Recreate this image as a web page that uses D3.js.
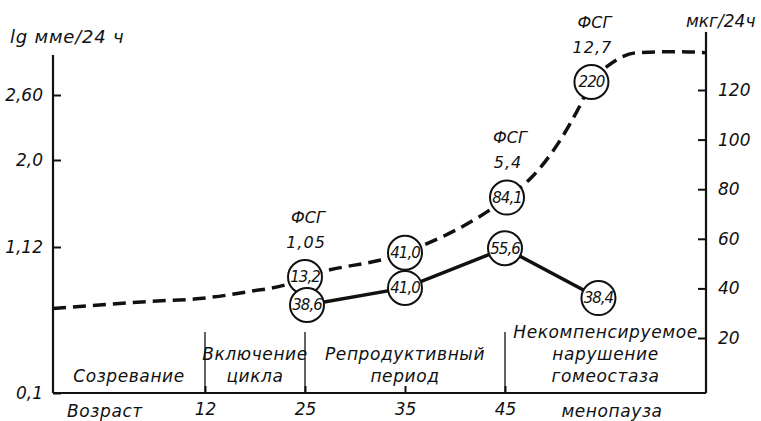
<!DOCTYPE html>
<html>
<head>
<meta charset="utf-8">
<script src="https://cdn.jsdelivr.net/npm/d3@7"></script>
<style>
    body { margin: 0; background: #fff; }
    svg text { font-family: "DejaVu Sans", sans-serif; font-style: italic; fill: #111; }
    .axis path { display: none; }
    .axis line { stroke: #111; stroke-width: 2; }
    .axis text { font-size: 17px; }
</style>
</head>
<body>
<div id="chart"></div>
<script>
// axis ticks
const leftTicks = [0.1, 1.12, 2.0, 2.6];
const leftTickLabels = ["0,1", "1,12", "2,0", "2,60"];
const rightTicks = [20, 40, 60, 80, 100, 120];
const ageTicks = [12, 25, 35, 45];

// dashed curve (lg мме/24 ч)
const fshCurveAges = [0, 7.7, 11.6, 17.9, 22.7, 25, 35, 45.2, 47.7, 52.5, 53.6, 55.4, 58.1, 62.4, 65];
const fshCurveLg = [0.69, 0.74, 0.76, 0.81, 0.86, 0.91, 1.08, 1.62, 1.83, 2.51, 2.72, 2.88, 2.99, 3.0, 2.99];

// circled points on the dashed curve
const fshPointAges = [25, 35, 45.2, 53.6];
const fshPointLg = [0.91, 1.08, 1.62, 2.72];
const fshPointLabels = ["13,2", "41,0", "84,1", "220"];

// ФСГ notes above some of the circles
const fsgNoteIndex = [0, 2, 3];
const fsgNoteValues = ["1,05", "5,4", "12,7"];

// solid line (мкг/24 ч)
const estrAges = [25.2, 35, 45, 54.3];
const estrValues = [33.3, 40.2, 56.2, 36.1];
const estrLabels = ["38,6", "41,0", "55,6", "38,4"];

// life stages along the bottom
const stageSpans = [[0, 12], [12, 25], [25, 45], [45, 65]];
const stageNames = [["Созревание"], ["Включение", "цикла"], ["Репродуктивный", "период"],
    ["Некомпенсируемое", "нарушение", "гомеостаза"]];
const stageDividers = [12, 25, 45];

const width = 761, height = 421;
const xLeft = 53, xRight = 706, yBottom = 393;

const svg = d3.select("#chart").append("svg")
    .attr("width", width)
    .attr("height", height);

// scales (the original axes are not evenly spaced)
let x = d3.scaleLinear().domain([0, 12, 25, 35, 45, 65]).range([xLeft, 205, 305, 405, 505, xRight]);
let yL = d3.scaleLinear().domain(leftTicks).range([yBottom, 247, 160, 95]);
let yR = d3.scaleLinear().domain([0, 120]).range([387.6, 90]);

// axis lines
svg.append("line").attr("x1", xLeft).attr("x2", xLeft).attr("y1", 55).attr("y2", yBottom)
    .style("stroke", "#111").style("stroke-width", 2.2);
svg.append("line").attr("x1", xRight).attr("x2", xRight).attr("y1", 32).attr("y2", yBottom)
    .style("stroke", "#111").style("stroke-width", 2.2);
svg.append("line").attr("x1", xLeft).attr("x2", xRight).attr("y1", yBottom).attr("y2", yBottom)
    .style("stroke", "#111").style("stroke-width", 2.2);

// left axis, ticks pointing inwards
svg.append("g")
    .attr("class", "axis")
    .attr("transform", "translate(" + xLeft + ",0)")
    .call(d3.axisLeft(yL).tickValues(leftTicks).tickSize(-8).tickPadding(10)
        .tickFormat((d, i) => leftTickLabels[i]));

// right axis
svg.append("g")
    .attr("class", "axis")
    .attr("transform", "translate(" + xRight + ",0)")
    .call(d3.axisRight(yR).tickValues(rightTicks).tickSize(-8).tickPadding(12));

// bottom axis
svg.append("g")
    .attr("class", "axis")
    .attr("transform", "translate(0," + yBottom + ")")
    .call(d3.axisBottom(x).tickValues(ageTicks).tickSize(-7).tickPadding(10));

svg.selectAll(".divider")
    .data(stageDividers)
    .enter().append("line")
    .attr("class", "divider")
    .attr("x1", d => x(d)).attr("x2", d => x(d))
    .attr("y1", yBottom).attr("y2", 332)
    .style("stroke", "#111").style("stroke-width", 1.3);

// stage names
stageNames.forEach(function (lines, i) {
    let cx = (x(stageSpans[i][0]) + x(stageSpans[i][1])) / 2;
    lines.forEach(function (line, j) {
        svg.append("text")
            .attr("x", cx)
            .attr("y", 376 - (lines.length - 1 - j) * 22)
            .attr("dy", "0.35em")
            .attr("text-anchor", "middle")
            .style("font-size", "17px")
            .style("letter-spacing", "0.6px")
            .text(line);
    });
});

// axis captions
svg.append("text").attr("x", 10).attr("y", 43).style("font-size", "18px").style("letter-spacing", "0.8px")
    .text("lg мме/24 ч");
svg.append("text").attr("x", 686).attr("y", 27).style("font-size", "17px").text("мкг/24ч");
svg.append("text").attr("x", 105).attr("y", 411).attr("dy", "0.35em").attr("text-anchor", "middle")
    .style("font-size", "17px").style("letter-spacing", "0.6px").text("Возраст");
svg.append("text").attr("x", 612).attr("y", 411).attr("dy", "0.35em").attr("text-anchor", "middle")
    .style("font-size", "17px").style("letter-spacing", "0.6px").text("менопауза");

// dashed line
let fshData = fshCurveAges.map((a, i) => ({age: a, v: fshCurveLg[i]}));
svg.append("path")
    .datum(fshData)
    .attr("d", d3.line().x(d => x(d.age)).y(d => yL(d.v)).curve(d3.curveMonotoneX))
    .style("fill", "none")
    .style("stroke", "#111")
    .style("stroke-width", 3.5)
    .style("stroke-dasharray", "13,7");

// solid line
let estrData = estrAges.map((a, i) => ({age: a, v: estrValues[i], label: estrLabels[i]}));
svg.append("path")
    .datum(estrData)
    .attr("d", d3.line().x(d => x(d.age)).y(d => yR(d.v)))
    .style("fill", "none")
    .style("stroke", "#111")
    .style("stroke-width", 3.5);

// circled labels
let fshPoints = fshPointAges.map((a, i) => ({cx: x(a), cy: yL(fshPointLg[i]), label: fshPointLabels[i]}));
let estrPoints = estrData.map(d => ({cx: x(d.age), cy: yR(d.v), label: d.label}));
let allPoints = fshPoints.concat(estrPoints);

svg.selectAll(".dot")
    .data(allPoints)
    .enter().append("circle")
    .attr("class", "dot")
    .attr("cx", d => d.cx)
    .attr("cy", d => d.cy)
    .attr("r", 17)
    .style("fill", "#fff")
    .style("stroke", "#111")
    .style("stroke-width", 2);

svg.selectAll(".dotlabel")
    .data(allPoints)
    .enter().append("text")
    .attr("class", "dotlabel")
    .attr("x", d => d.cx)
    .attr("y", d => d.cy)
    .attr("dy", "0.36em")
    .attr("text-anchor", "middle")
    .style("font-size", "15px")
    .style("letter-spacing", "-1px")
    .text(d => d.label);

// ФСГ notes
fsgNoteIndex.forEach(function (k, i) {
    let p = fshPoints[k];
    svg.append("text").attr("x", p.cx + 3).attr("y", p.cy - 60).attr("dy", "0.35em")
        .attr("text-anchor", "middle").style("font-size", "16px").text("ФСГ");
    svg.append("text").attr("x", p.cx + 1).attr("y", p.cy - 35).attr("dy", "0.35em")
        .attr("text-anchor", "middle").style("font-size", "16px").style("letter-spacing", "1px")
        .text(fsgNoteValues[i]);
});
</script>
</body>
</html>
